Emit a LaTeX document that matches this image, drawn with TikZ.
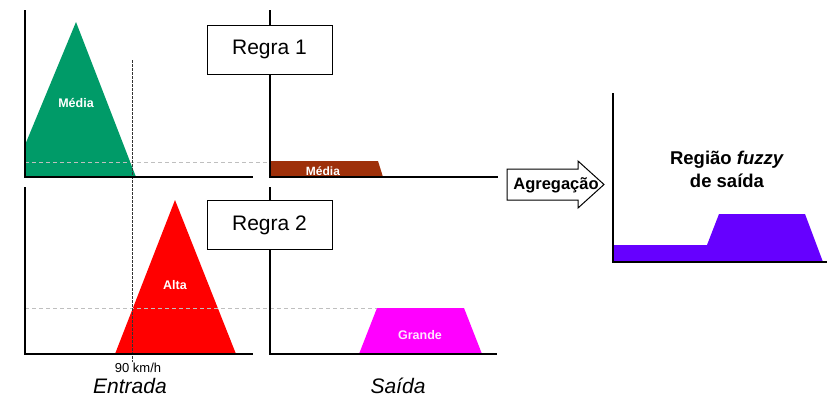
\documentclass[tikz,border=0pt]{standalone}
\usepackage{fontspec}
\setmainfont{Liberation Sans}
\begin{document}
\begin{tikzpicture}[x=1pt,y=-1pt,
  axis/.style={line width=1.6pt,black},
  guide/.style={gray!50,dashed,line width=0.8pt,dash pattern=on 4pt off 3pt},
  marker/.style={black!80,line width=0.9pt,dash pattern=on 2.5pt off 1.5pt},
  rulebox/.style={draw=black,line width=1pt,fill=white,minimum width=125pt,minimum height=49pt,font=\fontsize{21}{24}\selectfont},
  setlabel/.style={text=white,font=\bfseries\fontsize{12.5}{14}\selectfont},
  caption/.style={font=\itshape\fontsize{21}{24}\selectfont,anchor=base,inner sep=0pt}]
\definecolor{mgreen}{RGB}{0,155,104}
\definecolor{mred}{RGB}{255,0,0}
\definecolor{mbrown}{RGB}{158,48,10}
\definecolor{mmag}{RGB}{255,0,255}
\definecolor{mpurple}{RGB}{102,0,255}
\useasboundingbox (0,0) rectangle (828,397);
% fills
\fill[mgreen] (25,177) -- (25,145) -- (76,22) -- (136,177) -- cycle;
\fill[mred] (115,354) -- (175,200) -- (236,354) -- cycle;
\fill[mbrown] (270,177) -- (270,161) -- (378,161) -- (383,177) -- cycle;
\fill[mmag] (359,354) -- (377,308) -- (464,308) -- (482,354) -- cycle;
\fill[mpurple] (613,262) -- (613,245) -- (707,245) -- (719,214) -- (805,214) -- (823,262) -- cycle;
% guides
\draw[guide] (25,162) -- (270,162);
\draw[guide] (25,308) -- (377,308);
\coordinate (mtop) at (132,60);
\coordinate (mbot) at (132,362);
\draw[marker] (mtop) -- (mbot);
% axes
\draw[axis] (25,10) -- (25,177) -- (253,177);
\draw[axis] (25,187) -- (25,354) -- (253,354);
\draw[axis] (270,10) -- (270,177) -- (498,177);
\draw[axis] (270,187) -- (270,354) -- (497,354);
\draw[axis] (613,93) -- (613,262) -- (827,262);
% rule boxes
\node[rulebox] (r1) at (269.5,49.5) {Regra 1};
\node[rulebox] (r2) at (269.5,225) {Regra 2};
% labels
\node[setlabel] (lmedia) at (76,103) {Média};
\node[setlabel] (lalta) at (175,285) {Alta};
\node[setlabel,font=\bfseries\fontsize{12}{14}\selectfont] (lmedia2) at (323,171) {Média};
\node[setlabel,text=white!90!mmag] (lgrande) at (420,335) {Grande};
\node[font=\fontsize{13}{15}\selectfont,anchor=base,inner sep=0pt] (l90) at (138,372) {90 km/h};
\node[caption] (lentrada) at (130,393) {Entrada};
\node[caption] (lsaida) at (398,393) {Saída};
% aggregation arrow
\draw[line width=1pt,fill=white] (507,169) -- (578,169) -- (578,161) -- (604,184.5) -- (578,208) -- (578,200) -- (507,200) -- cycle;
\node[font=\bfseries\fontsize{16.5}{18}\selectfont] (lagg) at (556,185) {Agregação};
\node[font=\bfseries\fontsize{18.5}{23}\selectfont,align=center] (lregion) at (727,169) {Região \textit{fuzzy}\\de saída};
\end{tikzpicture}
\end{document}
